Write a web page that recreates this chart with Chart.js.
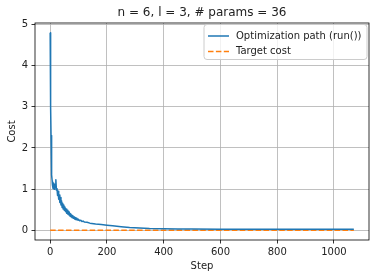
<!DOCTYPE html>
<html>
<head>
<meta charset="utf-8">
<script src="https://cdn.jsdelivr.net/npm/chart.js@4.4.0/dist/chart.umd.min.js"></script>
<style>
  html, body { margin: 0; padding: 0; background: #fff; }
  canvas { display: block; }
</style>
</head>
<body>
<canvas id="costChart" width="376" height="278"></canvas>
<script>
// Data
const pathSteps = [0, 1, 2, 3, 4, 5, 6, 7, 8, 10, 12, 14, 16, 18, 20, 22, 24, 26, 28, 30,
    32, 34, 36, 38, 40, 42, 44, 46, 48, 50, 52, 54, 56, 58, 60, 62, 64, 66, 68, 70,
    72, 74, 76, 78, 80, 82, 84, 86, 88, 90, 92, 94, 96, 98, 100, 104, 108, 112, 116, 120,
    130, 140, 160, 180, 200, 220, 250, 280, 315, 350, 400, 450, 500, 600, 700, 800, 900, 1000, 1070];
const pathCost = [4.79, 3.9, 3.0, 2.3, 1.9, 1.6, 1.35, 1.2, 1.10, 1.02, 1.15, 1.00, 1.12, 1.05, 1.23, 0.98, 1.02, 0.85, 0.95, 0.76,
    0.86, 0.68, 0.80, 0.62, 0.72, 0.56, 0.66, 0.52, 0.62, 0.49, 0.57, 0.46, 0.52, 0.42, 0.49, 0.40, 0.46, 0.38, 0.43, 0.35,
    0.41, 0.33, 0.38, 0.31, 0.36, 0.30, 0.33, 0.28, 0.31, 0.27, 0.30, 0.26, 0.28, 0.25, 0.27, 0.24, 0.25, 0.22, 0.23, 0.21,
    0.20, 0.18, 0.16, 0.145, 0.13, 0.115, 0.095, 0.075, 0.06, 0.05, 0.045, 0.04, 0.038, 0.035, 0.033, 0.032, 0.031, 0.03, 0.03];
const targetSteps = [0, 1070];
const targetCost = [0.01, 0.01];

const xTicks = [0, 200, 400, 600, 800, 1000];
const yTicks = [0, 1, 2, 3, 4, 5];

const titleText = 'n = 6, l = 3, # params = 36';
const FONT = 'DejaVu Sans';
const TEXT = '#222';

// legend drawn inside the plot, matplotlib style
const innerLegend = {
    id: 'innerLegend',
    afterDraw(chart) {
        const ctx = chart.ctx;
        const a = chart.chartArea;
        const x0 = a.right - 165, y0 = a.top + 1.5, w = 163, h = 35;
        ctx.save();
        ctx.beginPath();
        ctx.roundRect(x0, y0, w, h, 3);
        ctx.fillStyle = 'rgba(255,255,255,0.8)';
        ctx.fill();
        ctx.strokeStyle = '#cccccc';
        ctx.lineWidth = 1;
        ctx.stroke();
        ctx.font = '10px "' + FONT + '"';
        ctx.textBaseline = 'middle';
        chart.data.datasets.forEach((ds, i) => {
            const yy = y0 + 11.5 + i * 15.5;
            ctx.beginPath();
            ctx.setLineDash(ds.borderDash || []);
            ctx.strokeStyle = ds.borderColor;
            ctx.lineWidth = 1.5;
            ctx.moveTo(x0 + 4, yy);
            ctx.lineTo(x0 + 25, yy);
            ctx.stroke();
            ctx.setLineDash([]);
            ctx.fillStyle = TEXT;
            ctx.fillText(ds.label, x0 + 32, yy);
        });
        ctx.restore();
    }
};

// black frame round the axes
const spines = {
    id: 'spines',
    afterDatasetsDraw(chart) {
        const ctx = chart.ctx;
        const a = chart.chartArea;
        ctx.save();
        ctx.strokeStyle = '#000';
        ctx.lineWidth = 0.8;
        ctx.strokeRect(a.left, a.top, a.right - a.left, a.bottom - a.top);
        ctx.restore();
    }
};

const axisFont = { family: FONT, size: 10 };

new Chart(document.getElementById('costChart').getContext('2d'), {
    type: 'line',
    data: {
        datasets: [{
            label: 'Optimization path (run())',
            data: pathSteps.map((s, i) => ({ x: s, y: pathCost[i] })),
            borderColor: '#1f77b4',
            borderWidth: 1.5,
            borderJoinStyle: 'round',
            pointRadius: 0,
            tension: 0
        }, {
            label: 'Target cost',
            data: targetSteps.map((s, i) => ({ x: s, y: targetCost[i] })),
            borderColor: '#ff7f0e',
            borderWidth: 1.5,
            borderDash: [5.5, 2.4],
            pointRadius: 0
        }]
    },
    options: {
        responsive: false,
        animation: false,
        devicePixelRatio: 1,
        layout: { padding: { left: 0, right: 7, top: 0, bottom: 0 } },
        plugins: {
            legend: { display: false },
            tooltip: { enabled: false },
            title: {
                display: true,
                text: titleText,
                fullSize: false,
                color: TEXT,
                font: { family: FONT, size: 12, weight: 'normal' },
                padding: { top: 6, bottom: 2.6 }
            }
        },
        scales: {
            x: {
                type: 'linear',
                min: -53.5,
                max: 1123.5,
                afterBuildTicks: s => { s.ticks = xTicks.map(v => ({ value: v })); },
                afterFit: s => { s.height = 38; },
                border: { display: false },
                grid: { color: '#b0b0b0', lineWidth: 0.8, tickColor: '#000', tickLength: 3.5, tickWidth: 0.8 },
                ticks: { font: axisFont, color: TEXT, padding: 3, maxRotation: 0, callback: v => String(v) },
                title: { display: true, text: 'Step', font: axisFont, color: TEXT, padding: { top: 0, bottom: 6 } }
            },
            y: {
                type: 'linear',
                min: -0.228,
                max: 5.027,
                afterBuildTicks: s => { s.ticks = yTicks.map(v => ({ value: v })); },
                afterFit: s => { s.width = 35; },
                border: { display: false },
                grid: { color: '#b0b0b0', lineWidth: 0.8, tickColor: '#000', tickLength: 3.5, tickWidth: 0.8 },
                ticks: { font: axisFont, color: TEXT, padding: 3.5, callback: v => String(v) },
                title: { display: true, text: 'Cost', font: axisFont, color: TEXT, padding: { top: 6, bottom: 0 } }
            }
        }
    },
    plugins: [innerLegend, spines]
});
</script>
</body>
</html>
